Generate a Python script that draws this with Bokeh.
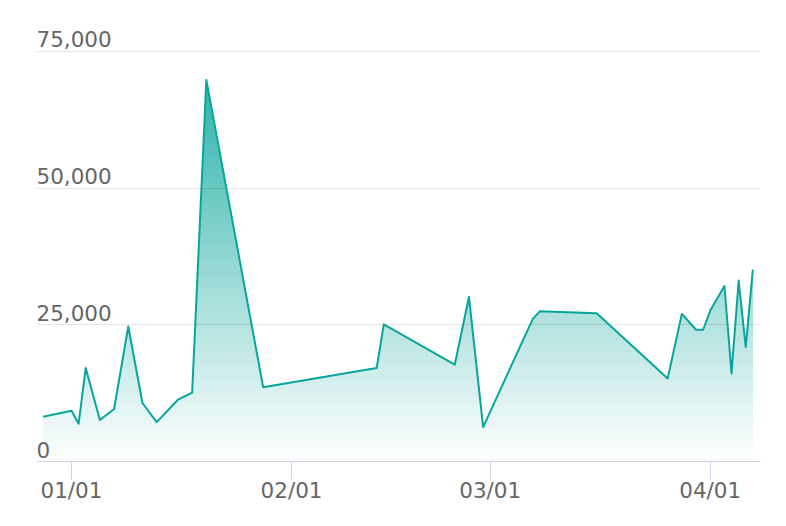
import numpy as np
import pandas as pd
from bokeh.plotting import figure
from bokeh.models import Range1d, FixedTicker, DatetimeTickFormatter
from bokeh.core.properties import value
from bokeh.embed import file_html
from bokeh.resources import INLINE

# ---------------- data ----------------
dates = ["2018-12-28", "2019-01-01", "2019-01-02", "2019-01-03", "2019-01-05",
         "2019-01-07", "2019-01-09", "2019-01-11", "2019-01-13", "2019-01-16",
         "2019-01-18", "2019-01-20", "2019-01-28", "2019-02-13", "2019-02-14",
         "2019-02-24", "2019-02-26", "2019-02-28", "2019-03-07", "2019-03-08",
         "2019-03-16", "2019-03-26", "2019-03-28", "2019-03-30", "2019-03-31",
         "2019-04-01", "2019-04-03", "2019-04-04", "2019-04-05", "2019-04-06",
         "2019-04-07"]
values = [8200, 9300, 6900, 17100, 7600, 9600, 24700, 10700, 7200, 11300,
          12600, 69800, 13600, 17100, 25100, 17700, 30100, 6300, 26100, 27500,
          27100, 15200, 27000, 24100, 24100, 27600, 32100, 16100, 33100, 20900,
          35100]
x_tick_dates = ["2019-01-01", "2019-02-01", "2019-03-01", "2019-04-01"]
x_tick_labels = ["01/01", "02/01", "03/01", "04/01"]
y_ticks = [0, 25000, 50000, 75000]
y_tick_labels = ["0", "25,000", "50,000", "75,000"]

# ---------------- helpers ----------------
def to_ms(s):
    return pd.Timestamp(s).value / 1e6

DAY = 86400000.0
xs = np.array([to_ms(d) for d in dates])
ys = np.array(values, dtype=float)
x_ticks_ms = [to_ms(d) for d in x_tick_dates]

x_start = to_ms("2019-01-01") - 4.932 * DAY
x_end = to_ms("2019-01-01") + 97.08 * DAY

LINE = (8, 165, 156)

p = figure(frame_width=724, frame_height=433, x_axis_type="datetime",
           y_axis_location=None,
           x_range=Range1d(x_start, x_end), y_range=Range1d(0, 79207),
           output_backend="svg", toolbar_location=None,
           min_border_left=36, min_border_right=20, min_border_top=28,
           min_border_bottom=50, outline_line_color=None,
           background_fill_color="white", border_fill_color="white")
p.xgrid.visible = False
p.ygrid.visible = False

# gradient fill built from horizontal bands
ymax = ys.max()
N = 70
levels = np.linspace(0, ymax, N + 1)
xr, yr = [xs[0]], [ys[0]]
for i in range(len(xs) - 1):
    xa, ya, xb, yb = xs[i], ys[i], xs[i + 1], ys[i + 1]
    lo, hi = min(ya, yb), max(ya, yb)
    ls = levels[(levels > lo) & (levels < hi)]
    if ya != yb and len(ls):
        ts = np.sort((ls - ya) / (yb - ya))
        for t in ts:
            xr.append(xa + t * (xb - xa))
            yr.append(ya + t * (yb - ya))
    xr.append(xb)
    yr.append(yb)
xr = np.array(xr)
yr = np.array(yr)

def band_color(t):
    a = 0.85 * t
    r = int(round(255 * (1 - a) + LINE[0] * a))
    g = int(round(255 * (1 - a) + LINE[1] * a))
    b = int(round(255 * (1 - a) + LINE[2] * a))
    return "#%02x%02x%02x" % (r, g, b)

for i in range(N, 0, -1):
    hi = levels[i]
    t = (levels[i - 1] + levels[i]) / 2 / ymax
    p.varea(x=xr, y1=np.zeros_like(yr), y2=np.minimum(yr, hi),
            fill_color=band_color(t), fill_alpha=1.0)

# grid lines (drawn semi transparent over the fill)
p.hspan(y=y_ticks[1:], line_color="black", line_alpha=0.1, line_width=1)

# series line
p.line(xs, ys, line_color="#%02x%02x%02x" % LINE, line_width=2, line_join="round")

# y labels above the grid lines
p.text(x=[x_start] * len(y_ticks), y=y_ticks, text=y_tick_labels,
       text_align="left", text_baseline="alphabetic", y_offset=-12,
       text_font=value("DejaVu Sans"), text_font_size="21.5px",
       text_color="#666666")

# x axis
ax = p.xaxis[0]
ax.ticker = FixedTicker(ticks=x_ticks_ms)
ax.formatter = DatetimeTickFormatter(days="%m/%d", months="%m/%d", years="%m/%d")
ax.major_label_overrides = {int(t): lab for t, lab in zip(x_ticks_ms, x_tick_labels)}
ax.axis_line_color = "#ccd6eb"
ax.major_tick_line_color = "#ccd6eb"
ax.major_tick_out = 18
ax.major_tick_in = 0
ax.minor_tick_out = 0
ax.minor_tick_in = 0
ax.minor_tick_line_color = None
ax.major_label_standoff = -2
ax.major_label_text_font = "DejaVu Sans"
ax.major_label_text_font_size = "21.5px"
ax.major_label_text_color = "#666666"

open("out.html", "w").write(file_html(p, INLINE))
